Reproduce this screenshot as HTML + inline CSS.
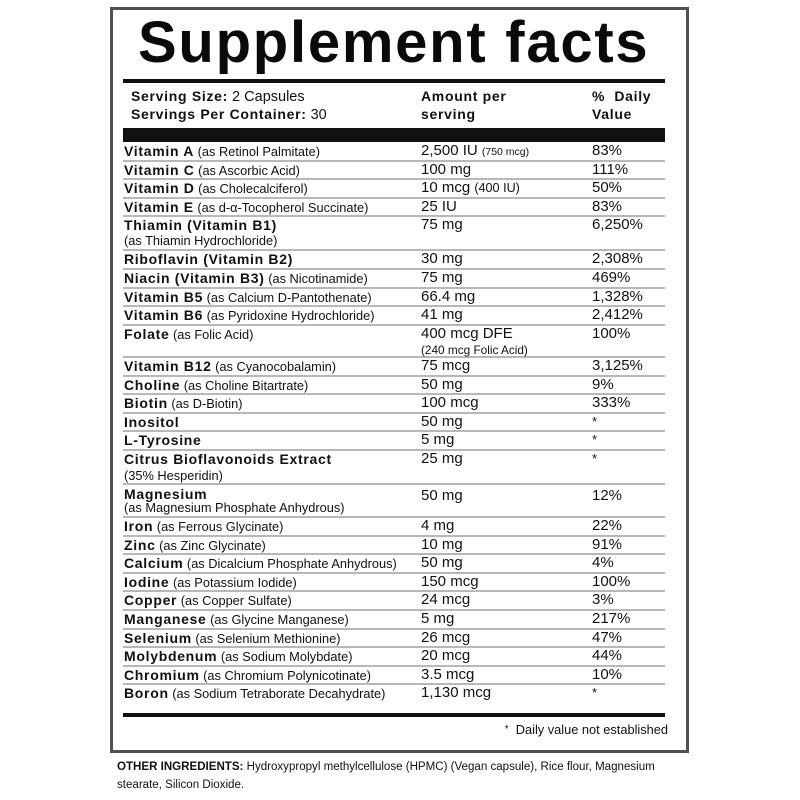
<!DOCTYPE html>
<html>
<head>
<meta charset="utf-8">
<style>
  html,body{margin:0;padding:0;background:#fff;}
  body{width:800px;height:800px;position:relative;overflow:hidden;font-family:"Liberation Sans",Arial,Helvetica,sans-serif;color:#111;}
  .frame{position:absolute;left:110px;top:7px;width:573px;height:740px;border:3px solid #505050;}
  .title{position:absolute;left:138px;top:14px;font-size:58px;line-height:58px;font-weight:bold;letter-spacing:1.75px;white-space:nowrap;color:#0a0a0a;}
  .hr{position:absolute;left:123px;width:542px;background:#111;}
  .sep{position:absolute;left:123px;width:542px;height:2px;background:#b8b8b8;}
  .hd{position:absolute;font-size:14.5px;line-height:17px;white-space:nowrap;}
  .hd b{font-size:14px;letter-spacing:0.7px;}
  .n{position:absolute;left:124px;font-size:12.8px;line-height:16px;white-space:nowrap;}
  .n b{font-size:14px;letter-spacing:0.7px;}
  .a{position:absolute;left:421px;font-size:15px;line-height:16px;white-space:nowrap;}
  .d{position:absolute;left:592px;font-size:15px;line-height:16px;white-space:nowrap;}
  .st{font-size:13px;}
  .foot{position:absolute;right:132px;top:722px;font-size:12.8px;line-height:16px;white-space:nowrap;}
  .oth{position:absolute;left:117px;top:758px;font-size:11.55px;line-height:18px;white-space:nowrap;color:#111;}
</style>
</head>
<body>
<div class="frame"></div>
<div class="title">Supplement facts</div>
<div class="hr" style="top:79px;height:3.5px;"></div>

<div class="hd" style="left:131px;top:88px;"><b>Serving Size:</b> 2 Capsules<br><b>Servings Per Container:</b> 30</div>
<div class="hd" style="left:421px;top:88px;"><b>Amount per</b><br><b>serving</b></div>
<div class="hd" style="left:592px;top:88px;"><b>%&nbsp; Daily</b><br><b>Value</b></div>

<div class="hr" style="top:128px;height:14px;"></div>

<!-- separators -->
<div class="sep" style="top:159.6px"></div>
<div class="sep" style="top:178.2px"></div>
<div class="sep" style="top:196.8px"></div>
<div class="sep" style="top:215.4px"></div>
<div class="sep" style="top:249.4px"></div>
<div class="sep" style="top:268px"></div>
<div class="sep" style="top:286.6px"></div>
<div class="sep" style="top:305.2px"></div>
<div class="sep" style="top:323.8px"></div>
<div class="sep" style="top:356px"></div>
<div class="sep" style="top:374.6px"></div>
<div class="sep" style="top:393.2px"></div>
<div class="sep" style="top:411.8px"></div>
<div class="sep" style="top:430.4px"></div>
<div class="sep" style="top:449px"></div>
<div class="sep" style="top:483px"></div>
<div class="sep" style="top:516px"></div>
<div class="sep" style="top:534.6px"></div>
<div class="sep" style="top:553.2px"></div>
<div class="sep" style="top:571.8px"></div>
<div class="sep" style="top:590.4px"></div>
<div class="sep" style="top:609px"></div>
<div class="sep" style="top:627.6px"></div>
<div class="sep" style="top:646.2px"></div>
<div class="sep" style="top:664.8px"></div>
<div class="sep" style="top:683.4px"></div>

<!-- rows -->
<div class="n" style="top:143px"><b>Vitamin A</b> (as Retinol Palmitate)</div>
<div class="a" style="top:143px">2,500 IU <span style="font-size:10.5px">(750 mcg)</span></div>
<div class="d" style="top:143px">83%</div>

<div class="n" style="top:161.6px"><b>Vitamin C</b> (as Ascorbic Acid)</div>
<div class="a" style="top:161.6px">100 mg</div>
<div class="d" style="top:161.6px">111%</div>

<div class="n" style="top:180.2px"><b>Vitamin D</b> (as Cholecalciferol)</div>
<div class="a" style="top:180.2px">10 mcg <span style="font-size:12.6px">(400 IU)</span></div>
<div class="d" style="top:180.2px">50%</div>

<div class="n" style="top:198.8px"><b>Vitamin E</b> (as d-α-Tocopherol Succinate)</div>
<div class="a" style="top:198.8px">25 IU</div>
<div class="d" style="top:198.8px">83%</div>

<div class="n" style="top:217.4px"><b>Thiamin (Vitamin B1)</b></div>
<div class="n" style="top:233px">(as Thiamin Hydrochloride)</div>
<div class="a" style="top:217.4px">75 mg</div>
<div class="d" style="top:217.4px">6,250%</div>

<div class="n" style="top:251.4px"><b>Riboflavin (Vitamin B2)</b></div>
<div class="a" style="top:251.4px">30 mg</div>
<div class="d" style="top:251.4px">2,308%</div>

<div class="n" style="top:270px"><b>Niacin (Vitamin B3)</b> (as Nicotinamide)</div>
<div class="a" style="top:270px">75 mg</div>
<div class="d" style="top:270px">469%</div>

<div class="n" style="top:288.6px"><b>Vitamin B5</b> (as Calcium D-Pantothenate)</div>
<div class="a" style="top:288.6px">66.4 mg</div>
<div class="d" style="top:288.6px">1,328%</div>

<div class="n" style="top:307.2px"><b>Vitamin B6</b> (as Pyridoxine Hydrochloride)</div>
<div class="a" style="top:307.2px">41 mg</div>
<div class="d" style="top:307.2px">2,412%</div>

<div class="n" style="top:325.8px"><b>Folate</b> (as Folic Acid)</div>
<div class="a" style="top:325.8px">400 mcg DFE</div>
<div class="a" style="top:342px;font-size:11.8px;">(240 mcg Folic Acid)</div>
<div class="d" style="top:325.8px">100%</div>

<div class="n" style="top:358px"><b>Vitamin B12</b> (as Cyanocobalamin)</div>
<div class="a" style="top:358px">75 mcg</div>
<div class="d" style="top:358px">3,125%</div>

<div class="n" style="top:376.6px"><b>Choline</b> (as Choline Bitartrate)</div>
<div class="a" style="top:376.6px">50 mg</div>
<div class="d" style="top:376.6px">9%</div>

<div class="n" style="top:395.2px"><b>Biotin</b> (as D-Biotin)</div>
<div class="a" style="top:395.2px">100 mcg</div>
<div class="d" style="top:395.2px">333%</div>

<div class="n" style="top:413.8px"><b>Inositol</b></div>
<div class="a" style="top:413.8px">50 mg</div>
<div class="d st" style="top:413.8px">*</div>

<div class="n" style="top:432.4px"><b>L-Tyrosine</b></div>
<div class="a" style="top:432.4px">5 mg</div>
<div class="d st" style="top:432.4px">*</div>

<div class="n" style="top:451px"><b>Citrus Bioflavonoids Extract</b></div>
<div class="n" style="top:468px">(35% Hesperidin)</div>
<div class="a" style="top:451px">25 mg</div>
<div class="d st" style="top:451px">*</div>

<div class="n" style="top:486px"><b>Magnesium</b></div>
<div class="n" style="top:500px">(as Magnesium Phosphate Anhydrous)</div>
<div class="a" style="top:488px">50 mg</div>
<div class="d" style="top:488px">12%</div>

<div class="n" style="top:518px"><b>Iron</b> (as Ferrous Glycinate)</div>
<div class="a" style="top:518px">4 mg</div>
<div class="d" style="top:518px">22%</div>

<div class="n" style="top:536.6px"><b>Zinc</b> (as Zinc Glycinate)</div>
<div class="a" style="top:536.6px">10 mg</div>
<div class="d" style="top:536.6px">91%</div>

<div class="n" style="top:555.2px"><b>Calcium</b> (as Dicalcium Phosphate Anhydrous)</div>
<div class="a" style="top:555.2px">50 mg</div>
<div class="d" style="top:555.2px">4%</div>

<div class="n" style="top:573.8px"><b>Iodine</b> (as Potassium Iodide)</div>
<div class="a" style="top:573.8px">150 mcg</div>
<div class="d" style="top:573.8px">100%</div>

<div class="n" style="top:592.4px"><b>Copper</b> (as Copper Sulfate)</div>
<div class="a" style="top:592.4px">24 mcg</div>
<div class="d" style="top:592.4px">3%</div>

<div class="n" style="top:611px"><b>Manganese</b> (as Glycine Manganese)</div>
<div class="a" style="top:611px">5 mg</div>
<div class="d" style="top:611px">217%</div>

<div class="n" style="top:629.6px"><b>Selenium</b> (as Selenium Methionine)</div>
<div class="a" style="top:629.6px">26 mcg</div>
<div class="d" style="top:629.6px">47%</div>

<div class="n" style="top:648.2px"><b>Molybdenum</b> (as Sodium Molybdate)</div>
<div class="a" style="top:648.2px">20 mcg</div>
<div class="d" style="top:648.2px">44%</div>

<div class="n" style="top:666.8px"><b>Chromium</b> (as Chromium Polynicotinate)</div>
<div class="a" style="top:666.8px">3.5 mcg</div>
<div class="d" style="top:666.8px">10%</div>

<div class="n" style="top:685.4px"><b>Boron</b> (as Sodium Tetraborate Decahydrate)</div>
<div class="a" style="top:685.4px">1,130 mcg</div>
<div class="d st" style="top:685.4px">*</div>

<div class="hr" style="top:713px;height:4px;"></div>

<div class="foot"><span style="font-size:10px;vertical-align:2px;">*</span>&nbsp; Daily value not established</div>

<div class="oth"><b>OTHER INGREDIENTS:</b> Hydroxypropyl methylcellulose (HPMC) (Vegan capsule), Rice flour, Magnesium<br>stearate, Silicon Dioxide.</div>
</body>
</html>
